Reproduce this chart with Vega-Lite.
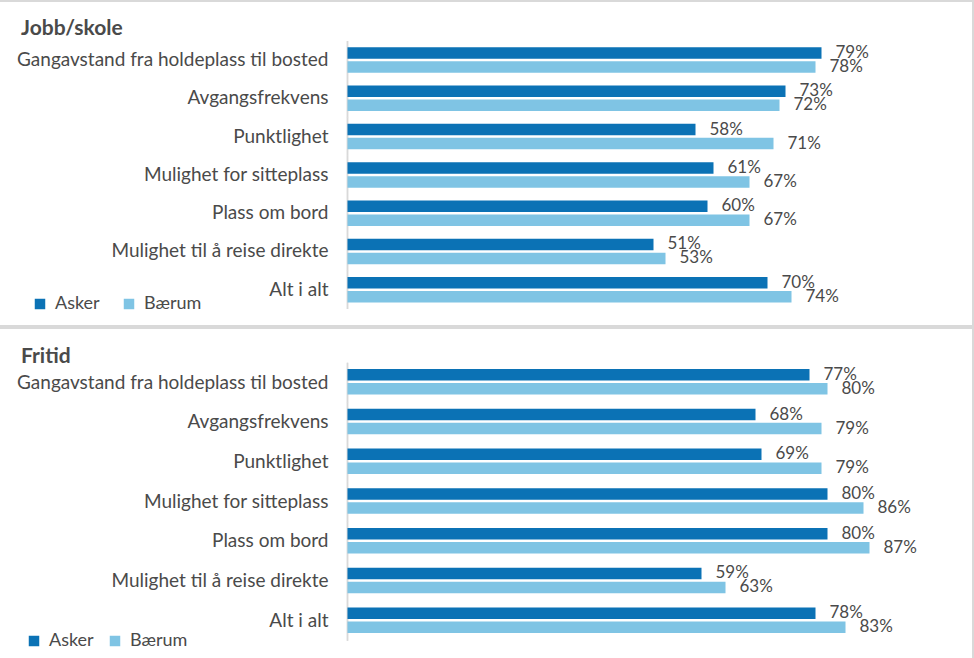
{
  "$schema": "https://vega.github.io/schema/vega-lite/v6.json",
  "padding": {"left": -3, "top": 0, "right": 0, "bottom": 0},
  "background": "white",
  "spacing": 0,
  "config": {
    "font": "Lato",
    "view": {"stroke": "#d9d9d9", "strokeWidth": 2},
    "axisY": {
      "orient": "left", "offset": -349.5, "domain": false, "ticks": false, "grid": false,
      "labelPadding": 19.5, "labelFontSize": 19, "labelColor": "#4a4a4a", "labelLimit": 420,
      "labelFont": "Lato", "title": null
    },
    "legend": {
      "orient": "none", "direction": "horizontal", "title": null, "symbolType": "square",
      "symbolSize": 110, "symbolStrokeWidth": 0, "labelFontSize": 18, "labelColor": "#4a4a4a",
      "labelFont": "Lato", "labelOffset": 6, "padding": 0
    },
    "title": {"anchor": "start", "frame": "group", "baseline": "alphabetic", "fontSize": 21, "fontWeight": "bold", "color": "#4a4a4a", "font": "Lato"}
  },
  "datasets": {
    "jobb": [
      {"category": "Gangavstand fra holdeplass til bosted", "series": "Asker", "value": 0.79},
      {"category": "Gangavstand fra holdeplass til bosted", "series": "Bærum", "value": 0.78},
      {"category": "Avgangsfrekvens", "series": "Asker", "value": 0.73},
      {"category": "Avgangsfrekvens", "series": "Bærum", "value": 0.72},
      {"category": "Punktlighet", "series": "Asker", "value": 0.58},
      {"category": "Punktlighet", "series": "Bærum", "value": 0.71},
      {"category": "Mulighet for sitteplass", "series": "Asker", "value": 0.61},
      {"category": "Mulighet for sitteplass", "series": "Bærum", "value": 0.67},
      {"category": "Plass om bord", "series": "Asker", "value": 0.60},
      {"category": "Plass om bord", "series": "Bærum", "value": 0.67},
      {"category": "Mulighet til å reise direkte", "series": "Asker", "value": 0.51},
      {"category": "Mulighet til å reise direkte", "series": "Bærum", "value": 0.53},
      {"category": "Alt i alt", "series": "Asker", "value": 0.70},
      {"category": "Alt i alt", "series": "Bærum", "value": 0.74}
    ],
    "fritid": [
      {"category": "Gangavstand fra holdeplass til bosted", "series": "Asker", "value": 0.77},
      {"category": "Gangavstand fra holdeplass til bosted", "series": "Bærum", "value": 0.80},
      {"category": "Avgangsfrekvens", "series": "Asker", "value": 0.68},
      {"category": "Avgangsfrekvens", "series": "Bærum", "value": 0.79},
      {"category": "Punktlighet", "series": "Asker", "value": 0.69},
      {"category": "Punktlighet", "series": "Bærum", "value": 0.79},
      {"category": "Mulighet for sitteplass", "series": "Asker", "value": 0.80},
      {"category": "Mulighet for sitteplass", "series": "Bærum", "value": 0.86},
      {"category": "Plass om bord", "series": "Asker", "value": 0.80},
      {"category": "Plass om bord", "series": "Bærum", "value": 0.87},
      {"category": "Mulighet til å reise direkte", "series": "Asker", "value": 0.59},
      {"category": "Mulighet til å reise direkte", "series": "Bærum", "value": 0.63},
      {"category": "Alt i alt", "series": "Asker", "value": 0.78},
      {"category": "Alt i alt", "series": "Bærum", "value": 0.83}
    ]
  },
  "vconcat": [
    {
      "width": 975,
      "height": 325,
      "title": {"text": "Jobb/skole", "offset": -38, "dx": 23},
      "data": {"name": "jobb"},
      "encoding": {
        "y": {"field": "category", "type": "nominal", "sort": null,
              "scale": {"paddingInner": 0, "paddingOuter": 0.744, "align": 0.7}}
      },
      "layer": [
        {
          "mark": {"type": "bar", "stroke": "#d9d9d9", "strokeWidth": 1.5, "fill": "transparent", "height": {"band": 1}},
          "encoding": {
            "x": {"datum": 0, "type": "quantitative", "scale": {"domain": [0, 1.0425], "range": [349.5, 975], "nice": false, "zero": false}, "axis": null},
            "x2": {"datum": 0}
          }
        },
        {
          "mark": {"type": "bar"},
          "encoding": {
            "x": {"field": "value", "type": "quantitative", "axis": null},
            "x2": {"datum": 0},
            "yOffset": {"field": "series", "type": "nominal", "sort": null, "scale": {"paddingInner": 0.18, "paddingOuter": 0.457}},
            "color": {"field": "series", "type": "nominal", "sort": null,
                      "scale": {"domain": ["Asker", "Bærum"], "range": ["#0b72b5", "#7fc4e4"]},
                      "legend": {"legendX": 33, "legendY": 294, "columnPadding": 20}}
          }
        },
        {
          "mark": {"type": "text", "align": "left", "baseline": "middle", "dx": 14, "fontSize": 17, "color": "#4a4a4a"},
          "encoding": {
            "x": {"field": "value", "type": "quantitative", "axis": null},
            "yOffset": {"field": "series", "type": "nominal", "sort": null},
            "text": {"field": "value", "type": "quantitative", "format": ".0%"}
          }
        }
      ]
    },
    {
      "width": 975,
      "height": 334,
      "title": {"text": "Fritid", "offset": -39, "dx": 23},
      "data": {"name": "fritid"},
      "encoding": {
        "y": {"field": "category", "type": "nominal", "sort": null,
              "scale": {"paddingInner": 0, "paddingOuter": 0.705, "align": 0.62}}
      },
      "layer": [
        {
          "mark": {"type": "bar", "stroke": "#d9d9d9", "strokeWidth": 1.5, "fill": "transparent", "height": {"band": 1}},
          "encoding": {
            "x": {"datum": 0, "type": "quantitative", "scale": {"domain": [0, 1.0425], "range": [349.5, 975], "nice": false, "zero": false}, "axis": null},
            "x2": {"datum": 0}
          }
        },
        {
          "mark": {"type": "bar"},
          "encoding": {
            "x": {"field": "value", "type": "quantitative", "axis": null},
            "x2": {"datum": 0},
            "yOffset": {"field": "series", "type": "nominal", "sort": null, "scale": {"paddingInner": 0.17, "paddingOuter": 0.455}},
            "color": {"field": "series", "type": "nominal", "sort": null,
                      "scale": {"domain": ["Asker", "Bærum"], "range": ["#0b72b5", "#7fc4e4"]},
                      "legend": {"legendX": 27, "legendY": 304, "columnPadding": 12}}
          }
        },
        {
          "mark": {"type": "text", "align": "left", "baseline": "middle", "dx": 14, "fontSize": 17, "color": "#4a4a4a"},
          "encoding": {
            "x": {"field": "value", "type": "quantitative", "axis": null},
            "yOffset": {"field": "series", "type": "nominal", "sort": null},
            "text": {"field": "value", "type": "quantitative", "format": ".0%"}
          }
        }
      ]
    }
  ],
  "resolve": {"scale": {"color": "independent"}, "legend": {"color": "independent"}}
}
